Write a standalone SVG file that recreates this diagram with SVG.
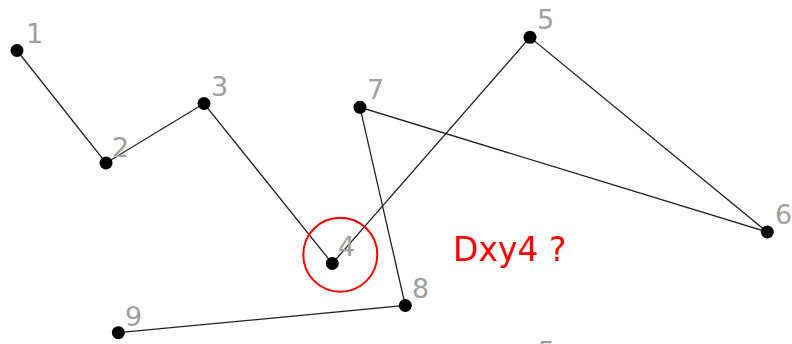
<svg xmlns="http://www.w3.org/2000/svg" width="792" height="344" viewBox="0 0 792 344">
<style>
.lbl{font-family:"DejaVu Sans",sans-serif;font-size:27px;fill:#a0a0a0}
.dot{fill:#000}
.edge{stroke:#222;stroke-width:1.3;fill:none}
</style>
<rect width="792" height="344" fill="#fff"/>
<g id="connectors">
<polyline class="edge" points="17,50.5 106,163 204,103.5 332.3,263.5 530,37.3 767.3,232 360,107.3 405.3,305.5 118.3,332.7"/>
</g>
<g id="node1"><circle class="dot" cx="17" cy="50.5" r="6.5"/><text class="lbl" x="26" y="43">1</text></g>
<g id="node2"><circle class="dot" cx="106" cy="163" r="6.5"/><text class="lbl" x="112" y="157">2</text></g>
<g id="node3"><circle class="dot" cx="204" cy="103.5" r="6.5"/><text class="lbl" x="211" y="96">3</text></g>
<g id="node4"><circle class="dot" cx="332.3" cy="263.5" r="6.5"/><text class="lbl" x="338" y="256">4</text></g>
<g id="node5"><circle class="dot" cx="530" cy="37.3" r="6.5"/><text class="lbl" x="537" y="29">5</text></g>
<g id="node6"><circle class="dot" cx="767.3" cy="232" r="6.5"/><text class="lbl" x="775" y="224">6</text></g>
<g id="node7"><circle class="dot" cx="360" cy="107.3" r="6.5"/><text class="lbl" x="367" y="99">7</text></g>
<g id="node8"><circle class="dot" cx="405.3" cy="305.5" r="6.5"/><text class="lbl" x="412" y="298">8</text></g>
<g id="node9"><circle class="dot" cx="118.3" cy="332.7" r="6.5"/><text class="lbl" x="125" y="326">9</text></g>
<text class="lbl" x="538" y="361">5</text>
<circle cx="340.3" cy="254.7" r="37" fill="none" stroke="#f00" stroke-width="2"/>
<text x="453" y="261" font-family="DejaVu Sans, sans-serif" font-size="33" fill="#f00">Dxy4 ?</text>
</svg>
